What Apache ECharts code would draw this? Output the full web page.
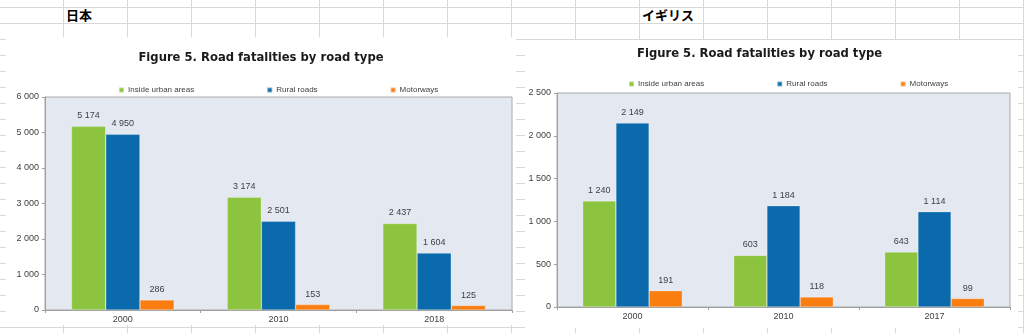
<!DOCTYPE html>
<html>
<head>
<meta charset="utf-8">
<script src="https://cdn.jsdelivr.net/npm/echarts@6/dist/echarts.min.js"></script>
<style>
  html, body { margin: 0; padding: 0; background: #ffffff; }
  #sheet {
    position: relative; width: 1024px; height: 333px; overflow: hidden;
    background-color: #ffffff;
    background-image:
      repeating-linear-gradient(to bottom, transparent 0px, transparent 7px, #d8d8d8 7px, #d8d8d8 8px, transparent 8px, transparent 16px),
      repeating-linear-gradient(to right, transparent 0px, transparent 63px, #d8d8d8 63px, #d8d8d8 64px);
  }
  .cell { position: absolute; top: 6px; font-family: "Noto Sans CJK JP", sans-serif; font-size: 13px; font-weight: bold; color: #000; line-height: 18px; }
  .chart { position: absolute; background: #ffffff; }
</style>
</head>
<body>
<div id="sheet">
  <div class="cell" style="left:66px;">日本</div>
  <div class="cell" style="left:642px;">イギリス</div>
  <div id="c1" class="chart" style="left:6px; top:37px; width:510px; height:288px;"></div>
  <div id="c2" class="chart" style="left:525px; top:40px; width:493px; height:288px;"></div>
</div>
<script>
// ---- Data ----
const seriesNames = ['Inside urban areas', 'Rural roads', 'Motorways'];
const titleText = 'Figure 5. Road fatalities by road type';

const categoriesJP = ['2000', '2010', '2018'];
const urbanJP = [5174, 3174, 2437];
const ruralJP = [4950, 2501, 1604];
const motorJP = [286, 153, 125];

const categoriesUK = ['2000', '2010', '2017'];
const urbanUK = [1240, 603, 643];
const ruralUK = [2149, 1184, 1114];
const motorUK = [191, 118, 99];

const colors = ['#8cc43f', '#0a6aab', '#fa7d0f'];

function fmt(v) {
  return String(v).replace(/\B(?=(\d{3})+(?!\d))/g, ' ');
}

function buildOption(cfg) {
  const base = 'Liberation Sans, Arial, sans-serif';
  return {
    animation: false,
    color: colors,
    title: {
      text: titleText,
      left: cfg.titleLeft, top: cfg.titleTop, padding: 0,
      textStyle: { fontFamily: 'DejaVu Sans, Verdana, sans-serif', fontWeight: 'bold', fontSize: 11.6, color: '#1a1a1a' }
    },
    legend: {
      left: cfg.legendLeft, top: cfg.legendTop, padding: 0,
      itemWidth: 5, itemHeight: 5, itemGap: 72,
      icon: 'rect',
      textStyle: { fontFamily: base, fontSize: 8, color: '#404040', padding: [0, 0, 0, -1] },
      data: seriesNames
    },
    grid: {
      left: cfg.grid[0], right: cfg.grid[1], top: cfg.grid[2], bottom: cfg.grid[3],
      show: true, backgroundColor: '#e4e9f1', borderColor: '#a8a8a8', borderWidth: 1
    },
    xAxis: {
      type: 'category', data: cfg.categories,
      axisLine: { lineStyle: { color: '#a0a0a0' } },
      axisTick: { show: true, length: 3, lineStyle: { color: '#a0a0a0' } },
      axisLabel: { fontFamily: base, fontSize: 9, color: '#404040', margin: 5 }
    },
    yAxis: {
      type: 'value', min: 0, max: cfg.max, interval: cfg.interval,
      splitLine: { show: false },
      axisLine: { show: true, lineStyle: { color: '#a0a0a0' } },
      axisTick: { show: true, length: 3, lineStyle: { color: '#a0a0a0' } },
      axisLabel: { fontFamily: base, fontSize: 9, color: '#404040', margin: 6, formatter: fmt }
    },
    series: cfg.data.map((d, i) => ({
      name: seriesNames[i], type: 'bar', data: d,
      barGap: '0%', barCategoryGap: '34%',
      itemStyle: { color: colors[i], borderColor: 'rgba(255,255,255,0.45)', borderWidth: 0.6 },
      label: {
        show: true, position: 'top', distance: 6,
        fontFamily: base, fontSize: 9, color: '#404040',
        formatter: p => fmt(p.value)
      }
    }))
  };
}

const c1 = echarts.init(document.getElementById('c1'), null, { renderer: 'canvas' });
c1.setOption(buildOption({
  categories: categoriesJP, data: [urbanJP, ruralJP, motorJP],
  max: 6000, interval: 1000,
  grid: [39, 4, 60, 15],
  titleLeft: 'center', titleTop: 15,
  legendLeft: 112, legendTop: 49
}));

const c2 = echarts.init(document.getElementById('c2'), null, { renderer: 'canvas' });
c2.setOption(buildOption({
  categories: categoriesUK, data: [urbanUK, ruralUK, motorUK],
  max: 2500, interval: 500,
  grid: [32, 8, 53, 21],
  titleLeft: 112, titleTop: 8,
  legendLeft: 103, legendTop: 40
}));
</script>
</body>
</html>
